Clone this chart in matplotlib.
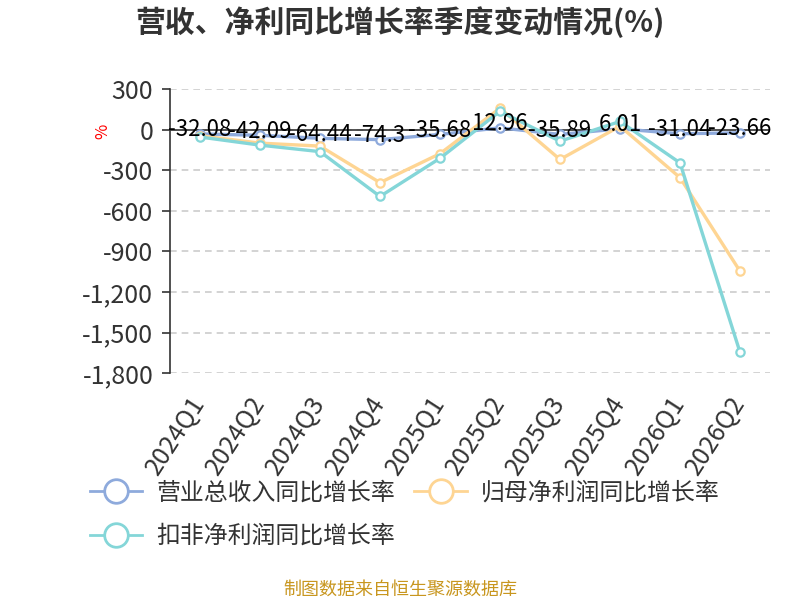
import matplotlib.pyplot as plt
from matplotlib.lines import Line2D
from matplotlib.ticker import FuncFormatter

plt.rcParams['font.family'] = ['Noto Sans CJK SC', 'DejaVu Sans']

quarters = ['2024Q1', '2024Q2', '2024Q3', '2024Q4', '2025Q1',
            '2025Q2', '2025Q3', '2025Q4', '2026Q1', '2026Q2']
revenue = [-32.08, -42.09, -64.44, -74.3, -35.68, 12.96, -35.89, 6.01, -31.04, -23.66]
net_profit = [-45, -100, -122, -392, -178, 158, -221, 25, -355, -1046]
net_profit_ex = [-55, -115, -163, -494, -212, 135, -86, 60, -246, -1645]

names = ['营业总收入同比增长率', '归母净利润同比增长率', '扣非净利润同比增长率']
colors = ['#8eaadc', '#fed593', '#84d6d8']
yticks = [300, 0, -300, -600, -900, -1200, -1500, -1800]

fig = plt.figure(figsize=(8, 6), dpi=100)
ax = fig.add_axes([0.2125, 0.378, 0.75, 0.4737])

x = list(range(len(quarters)))
for vals, c, z in zip([revenue, net_profit, net_profit_ex], colors, [3, 4, 5]):
    ax.plot(x, vals, color=c, lw=2.4, marker='o', ms=6, mfc='white',
            mec=c, mew=1.6, zorder=z)

# labels only on the revenue series
for i, v in enumerate(revenue):
    ax.annotate(f'{v:g}', (i, v), xytext=(0, 3), textcoords='offset points',
                ha='center', va='center', fontsize=16, color='black', zorder=10)

ax.set_xlim(-0.5, len(quarters) - 0.5)
ax.set_ylim(-1800, 300)
ax.set_yticks(yticks)
ax.yaxis.set_major_formatter(FuncFormatter(lambda v, p: f'{int(v):,}'))
ax.grid(axis='y', linestyle=(0, (4, 3)), color='#cccccc', lw=1.2)
ax.set_axisbelow(True)
ax.axhline(0, color='#333333', lw=1.2, zorder=2)

for s in ['top', 'right', 'bottom']:
    ax.spines[s].set_visible(False)
ax.spines['left'].set_color('#333333')
ax.spines['left'].set_linewidth(1.2)
ax.tick_params(axis='y', labelsize=18, colors='#333333', length=6, width=1.2, pad=6)
ax.set_xticks(x)
ax.set_xticklabels(quarters, rotation=57, ha='right', va='center',
                   rotation_mode='anchor', fontsize=18, color='#333333')
ax.tick_params(axis='x', length=0, pad=18)

ax.text(-0.112, 0.852, '%', transform=ax.transAxes, rotation=90,
        color='red', fontsize=12, ha='center', va='center')

fig.text(0.5, 0.963, '营收、净利同比增长率季度变动情况(%)', ha='center', va='center',
         fontsize=21.5, fontweight='bold', color='#333333')

handles = [Line2D([0], [0], color=c, lw=2, marker='o', ms=17, mfc='white',
                  mec=c, mew=2) for c in colors]
order = [0, 2, 1]
fig.legend([handles[i] for i in order], [names[i] for i in order],
           loc='upper left', bbox_to_anchor=(0.112, 0.197),
           ncol=2, frameon=False, fontsize=17.2, labelcolor='#333333',
           handlelength=2.2, columnspacing=0.8, handletextpad=0.6,
           labelspacing=0.85, borderpad=0, borderaxespad=0,
           bbox_transform=fig.transFigure)

fig.text(0.5, 0.017, '制图数据来自恒生聚源数据库', ha='center', va='center',
         fontsize=13, color='#c8961e')

fig.savefig('out.png', dpi=100)
